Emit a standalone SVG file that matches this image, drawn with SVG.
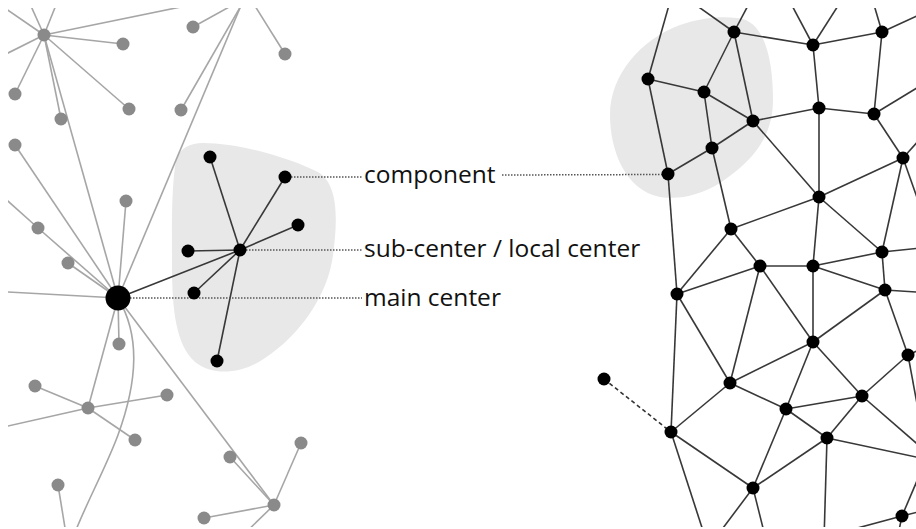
<svg xmlns="http://www.w3.org/2000/svg" width="916" height="529" viewBox="0 0 916 529">
<style>
.gl{stroke:#a6a6a6;stroke-width:1.6;fill:none}
.gn{fill:#8a8a8a}
.bl{stroke:#383838;stroke-width:1.6;fill:none}
.bn{fill:#000}
.blob{fill:#e8e8e8}
.dot{stroke:#555;stroke-width:1.5;stroke-dasharray:1.5 1.5;fill:none}
.dash{stroke:#333;stroke-width:1.6;stroke-dasharray:4 3;fill:none}
.lbl{font-family:"Open Sans","Noto Sans",sans-serif;font-size:24.5px;fill:#111}
</style>
<defs>
<clipPath id="frame"><rect x="8" y="8" width="908" height="519"/></clipPath>
</defs>
<rect width="916" height="529" fill="#fff"/>
<g id="components">
<path class="blob" d="M 203,143 C 240,143 290,158 318,172 C 340,185 337,225 333,255 C 328,295 300,335 265,358 C 245,372 215,378 195,362 C 176,345 172,310 172,265 C 172,230 171,190 176,160 C 180,148 190,143 203,143 Z"/>
<path class="blob" d="M 737,18 C 765,20 773,60 773,100 C 773,135 755,160 720,183 C 700,195 680,200 660,197 C 625,190 610,150 610,115 C 610,75 640,40 680,25 C 700,18 720,16 737,18 Z"/>
</g>
<g id="connectors" clip-path="url(#frame)">
<g class="gl">
<line x1="44" y1="35" x2="-20" y2="-9"/>
<line x1="44" y1="35" x2="26" y2="-5"/>
<line x1="44" y1="35" x2="60" y2="-5"/>
<line x1="44" y1="35" x2="210" y2="1"/>
<line x1="44" y1="35" x2="-10" y2="62"/>
<line x1="44" y1="35" x2="123" y2="44"/>
<line x1="44" y1="35" x2="129" y2="109"/>
<line x1="44" y1="35" x2="15" y2="94"/>
<line x1="44" y1="35" x2="61" y2="119"/>
<line x1="44" y1="35" x2="118" y2="298"/>
<line x1="15" y1="145" x2="118" y2="298"/>
<line x1="-10" y1="185" x2="38" y2="228"/>
<line x1="38" y1="228" x2="118" y2="298"/>
<line x1="68" y1="263" x2="118" y2="298"/>
<line x1="126" y1="201" x2="118" y2="298"/>
<line x1="245" y1="-4" x2="118" y2="298"/>
<line x1="181" y1="110" x2="246" y2="-3"/>
<line x1="193" y1="27" x2="240" y2="1"/>
<line x1="285" y1="54" x2="250" y2="-2"/>
<line x1="-10" y1="291" x2="118" y2="298"/>
<line x1="118" y1="298" x2="119" y2="344"/>
<line x1="118" y1="298" x2="88" y2="408"/>
<line x1="118" y1="298" x2="274" y2="505"/>
<path d="M 118,298 C 140,335 138,380 118,435 C 105,470 85,505 72,540"/>
<line x1="88" y1="408" x2="35" y2="386"/>
<line x1="88" y1="408" x2="167" y2="395"/>
<line x1="88" y1="408" x2="135" y2="440"/>
<line x1="88" y1="408" x2="-10" y2="430"/>
<line x1="58" y1="485" x2="67" y2="540"/>
<line x1="230" y1="457" x2="274" y2="505"/>
<line x1="301" y1="443" x2="274" y2="505"/>
<line x1="204" y1="518" x2="274" y2="505"/>
<line x1="274" y1="505" x2="238" y2="540"/>
</g>
<g class="bl">
<line x1="118" y1="298" x2="240" y2="250"/>
<line x1="240" y1="250" x2="210" y2="157"/>
<line x1="240" y1="250" x2="285" y2="177"/>
<line x1="240" y1="250" x2="298" y2="225"/>
<line x1="240" y1="250" x2="188" y2="251"/>
<line x1="240" y1="250" x2="194" y2="293"/>
<line x1="240" y1="250" x2="217" y2="361"/>
<line x1="648" y1="79" x2="671" y2="-2"/>
<line x1="734" y1="32" x2="686" y2="-2"/>
<line x1="734" y1="32" x2="752" y2="-2"/>
<line x1="813" y1="45" x2="788" y2="-2"/>
<line x1="813" y1="45" x2="843" y2="-2"/>
<line x1="882" y1="32" x2="872" y2="-2"/>
<line x1="882" y1="32" x2="930" y2="10"/>
<line x1="734" y1="32" x2="813" y2="45"/>
<line x1="813" y1="45" x2="882" y2="32"/>
<line x1="734" y1="32" x2="704" y2="92"/>
<line x1="734" y1="32" x2="753" y2="121"/>
<line x1="648" y1="79" x2="704" y2="92"/>
<line x1="648" y1="79" x2="668" y2="174"/>
<line x1="704" y1="92" x2="753" y2="121"/>
<line x1="704" y1="92" x2="712" y2="148"/>
<line x1="753" y1="121" x2="712" y2="148"/>
<line x1="712" y1="148" x2="668" y2="174"/>
<line x1="753" y1="121" x2="819" y2="108"/>
<line x1="813" y1="45" x2="819" y2="108"/>
<line x1="819" y1="108" x2="874" y2="114"/>
<line x1="882" y1="32" x2="874" y2="114"/>
<line x1="874" y1="114" x2="930" y2="80"/>
<line x1="874" y1="114" x2="903" y2="158"/>
<line x1="819" y1="108" x2="819" y2="197"/>
<line x1="753" y1="121" x2="819" y2="197"/>
<line x1="903" y1="158" x2="819" y2="197"/>
<line x1="903" y1="158" x2="930" y2="128"/>
<line x1="903" y1="158" x2="925" y2="220"/>
<line x1="712" y1="148" x2="731" y2="229"/>
<line x1="668" y1="174" x2="677" y2="294"/>
<line x1="903" y1="158" x2="882" y2="252"/>
<line x1="819" y1="197" x2="731" y2="229"/>
<line x1="819" y1="197" x2="813" y2="266"/>
<line x1="819" y1="197" x2="882" y2="252"/>
<line x1="882" y1="252" x2="930" y2="247"/>
<line x1="882" y1="252" x2="885" y2="290"/>
<line x1="731" y1="229" x2="677" y2="294"/>
<line x1="731" y1="229" x2="760" y2="266"/>
<line x1="760" y1="266" x2="813" y2="266"/>
<line x1="813" y1="266" x2="882" y2="252"/>
<line x1="813" y1="266" x2="885" y2="290"/>
<line x1="760" y1="266" x2="677" y2="294"/>
<line x1="760" y1="266" x2="730" y2="383"/>
<line x1="760" y1="266" x2="813" y2="342"/>
<line x1="813" y1="266" x2="813" y2="342"/>
<line x1="885" y1="290" x2="813" y2="342"/>
<line x1="885" y1="290" x2="930" y2="293"/>
<line x1="885" y1="290" x2="908" y2="355"/>
<line x1="677" y1="294" x2="671" y2="432"/>
<line x1="677" y1="294" x2="730" y2="383"/>
<line x1="813" y1="342" x2="786" y2="409"/>
<line x1="813" y1="342" x2="862" y2="396"/>
<line x1="813" y1="342" x2="730" y2="383"/>
<line x1="908" y1="355" x2="862" y2="396"/>
<line x1="908" y1="355" x2="930" y2="345"/>
<line x1="908" y1="355" x2="920" y2="420"/>
<line x1="862" y1="396" x2="786" y2="409"/>
<line x1="862" y1="396" x2="827" y2="438"/>
<line x1="862" y1="396" x2="930" y2="455"/>
<line x1="786" y1="409" x2="827" y2="438"/>
<line x1="786" y1="409" x2="753" y2="488"/>
<line x1="827" y1="438" x2="753" y2="488"/>
<line x1="827" y1="438" x2="930" y2="460"/>
<line x1="827" y1="438" x2="824" y2="540"/>
<line x1="730" y1="383" x2="786" y2="409"/>
<line x1="730" y1="383" x2="671" y2="432"/>
<line x1="671" y1="432" x2="753" y2="488"/>
<line x1="671" y1="432" x2="706" y2="540"/>
<line x1="753" y1="488" x2="714" y2="540"/>
<line x1="753" y1="488" x2="766" y2="540"/>
<line x1="902" y1="516" x2="925" y2="462"/>
<line x1="902" y1="516" x2="850" y2="530"/>
<line x1="902" y1="516" x2="897" y2="540"/>
<line x1="902" y1="516" x2="930" y2="509"/>
</g>
<line class="dash" x1="604" y1="379" x2="671" y2="432"/>
</g>
<g id="leaders">
<line class="dot" x1="291" y1="177" x2="362" y2="177"/>
<line class="dot" x1="502" y1="175" x2="662" y2="174.5"/>
<line class="dot" x1="246" y1="250" x2="362" y2="250"/>
<line class="dot" x1="130" y1="298" x2="362" y2="298"/>
</g>
<g id="left-network">
<circle class="gn" cx="44" cy="35" r="6.5"/>
<circle class="gn" cx="123" cy="44" r="6.5"/>
<circle class="gn" cx="129" cy="109" r="6.5"/>
<circle class="gn" cx="15" cy="94" r="6.5"/>
<circle class="gn" cx="61" cy="119" r="6.5"/>
<circle class="gn" cx="15" cy="145" r="6.5"/>
<circle class="gn" cx="181" cy="110" r="6.5"/>
<circle class="gn" cx="193" cy="27" r="6.5"/>
<circle class="gn" cx="285" cy="54" r="6.5"/>
<circle class="gn" cx="38" cy="228" r="6.5"/>
<circle class="gn" cx="68" cy="263" r="6.5"/>
<circle class="gn" cx="126" cy="201" r="6.5"/>
<circle class="gn" cx="119" cy="344" r="6.5"/>
<circle class="gn" cx="88" cy="408" r="6.5"/>
<circle class="gn" cx="35" cy="386" r="6.5"/>
<circle class="gn" cx="167" cy="395" r="6.5"/>
<circle class="gn" cx="135" cy="440" r="6.5"/>
<circle class="gn" cx="58" cy="485" r="6.5"/>
<circle class="gn" cx="230" cy="457" r="6.5"/>
<circle class="gn" cx="301" cy="443" r="6.5"/>
<circle class="gn" cx="274" cy="505" r="6.5"/>
<circle class="gn" cx="204" cy="518" r="6.5"/>
</g>
<g id="main-center"><circle class="bn" cx="118" cy="298" r="12.5"/></g>
<g id="sub-center"><circle class="bn" cx="240" cy="250" r="6.5"/></g>
<g id="component-left">
<circle class="bn" cx="210" cy="157" r="6.5"/>
<circle class="bn" cx="285" cy="177" r="6.5"/>
<circle class="bn" cx="298" cy="225" r="6.5"/>
<circle class="bn" cx="188" cy="251" r="6.5"/>
<circle class="bn" cx="194" cy="293" r="6.5"/>
<circle class="bn" cx="217" cy="361" r="6.5"/>
</g>
<g id="right-network">
<circle class="bn" cx="734" cy="32" r="6.5"/>
<circle class="bn" cx="813" cy="45" r="6.5"/>
<circle class="bn" cx="882" cy="32" r="6.5"/>
<circle class="bn" cx="648" cy="79" r="6.5"/>
<circle class="bn" cx="704" cy="92" r="6.5"/>
<circle class="bn" cx="753" cy="121" r="6.5"/>
<circle class="bn" cx="819" cy="108" r="6.5"/>
<circle class="bn" cx="874" cy="114" r="6.5"/>
<circle class="bn" cx="712" cy="148" r="6.5"/>
<circle class="bn" cx="668" cy="174" r="6.5"/>
<circle class="bn" cx="903" cy="158" r="6.5"/>
<circle class="bn" cx="819" cy="197" r="6.5"/>
<circle class="bn" cx="731" cy="229" r="6.5"/>
<circle class="bn" cx="882" cy="252" r="6.5"/>
<circle class="bn" cx="760" cy="266" r="6.5"/>
<circle class="bn" cx="813" cy="266" r="6.5"/>
<circle class="bn" cx="677" cy="294" r="6.5"/>
<circle class="bn" cx="885" cy="290" r="6.5"/>
<circle class="bn" cx="813" cy="342" r="6.5"/>
<circle class="bn" cx="908" cy="355" r="6.5"/>
<circle class="bn" cx="862" cy="396" r="6.5"/>
<circle class="bn" cx="786" cy="409" r="6.5"/>
<circle class="bn" cx="730" cy="383" r="6.5"/>
<circle class="bn" cx="827" cy="438" r="6.5"/>
<circle class="bn" cx="671" cy="432" r="6.5"/>
<circle class="bn" cx="753" cy="488" r="6.5"/>
<circle class="bn" cx="902" cy="516" r="6.5"/>
<circle class="bn" cx="604" cy="379" r="6.5"/>
</g>
<g id="labels">
<text class="lbl" x="364" y="183">component</text>
<text class="lbl" x="364" y="257">sub-center / local center</text>
<text class="lbl" x="364" y="306">main center</text>
</g>
</svg>
